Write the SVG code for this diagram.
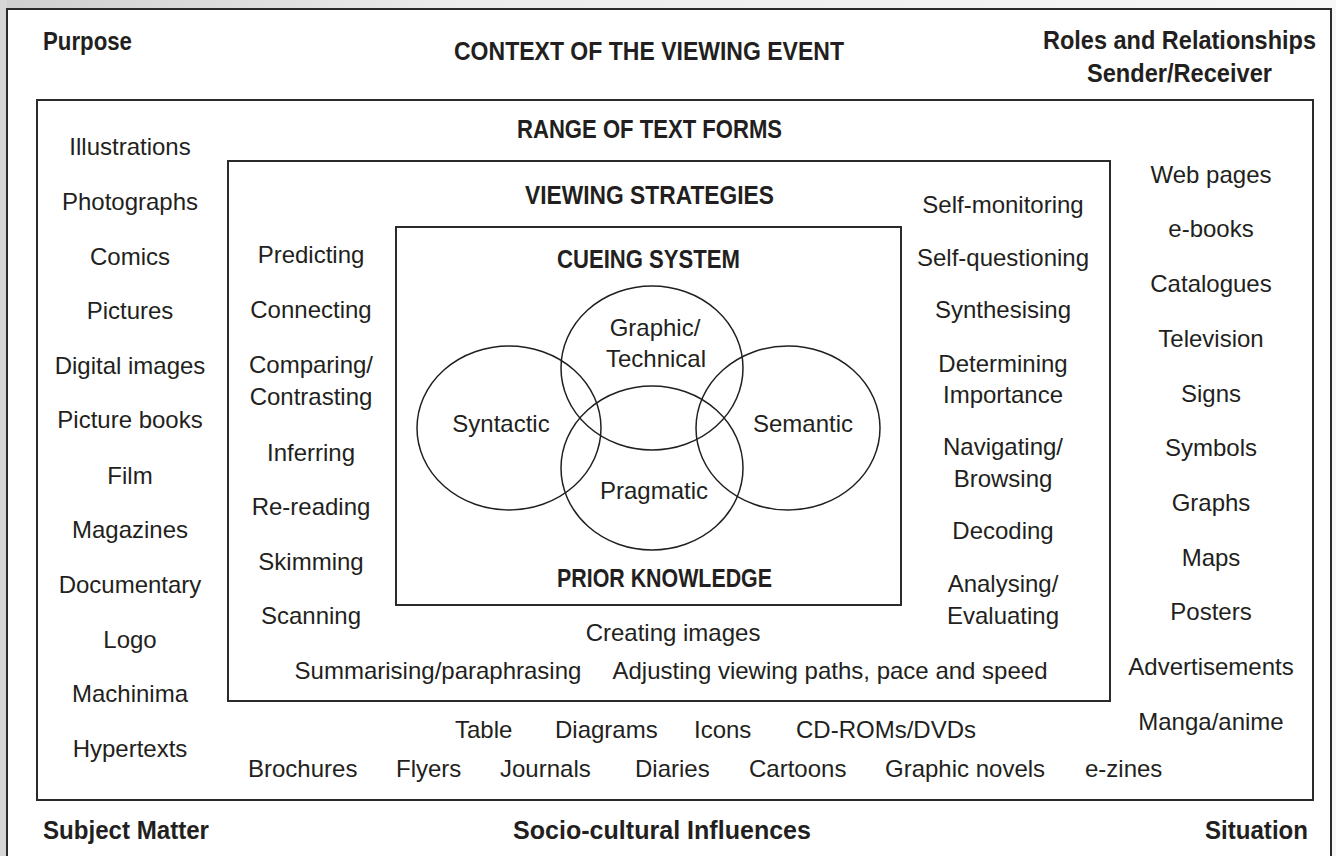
<svg xmlns="http://www.w3.org/2000/svg" width="1336" height="856" viewBox="0 0 1336 856">
  <style>
    .t { font-family: "Liberation Sans", Arial, sans-serif; font-size: 24px; fill: #231f20; text-anchor: middle; }
    .ts { font-family: "Liberation Sans", Arial, sans-serif; font-size: 24px; fill: #231f20; }
    .h { font-family: "Liberation Sans", Arial, sans-serif; font-size: 26px; font-weight: bold; fill: #231f20; }
    .hs { font-family: "Liberation Sans", Arial, sans-serif; font-size: 25px; font-weight: bold; fill: #231f20; }
    .box { fill: none; stroke: #2b2b2b; stroke-width: 2; }
    .ring { fill: none; stroke: #231f20; stroke-width: 1.5; }
  </style>
  <defs>
    <linearGradient id="edgeTop" x1="0" y1="0" x2="1" y2="0">
      <stop offset="0" stop-color="#cfcfcf"/>
      <stop offset="0.35" stop-color="#ececec"/>
      <stop offset="1" stop-color="#f7f7f7"/>
    </linearGradient>
  </defs>

  <!-- page backdrop -->
  <rect x="0" y="0" width="1336" height="856" fill="url(#edgeTop)"/>
  <rect x="0" y="0" width="7" height="856" fill="#d6d6d6"/>

  <!-- outermost frame: context of the viewing event -->
  <g id="context">
    <rect x="7" y="9" width="1324" height="870" fill="#ffffff"/>
    <rect x="7" y="9" width="1324" height="870" class="box"/>
    <text class="hs" x="43" y="50" textLength="89" lengthAdjust="spacingAndGlyphs">Purpose</text>
    <text class="h" x="454" y="60" textLength="390" lengthAdjust="spacingAndGlyphs">CONTEXT OF THE VIEWING EVENT</text>
    <text class="hs" x="1043" y="49" textLength="273" lengthAdjust="spacingAndGlyphs">Roles and Relationships</text>
    <text class="hs" x="1087" y="82" textLength="185" lengthAdjust="spacingAndGlyphs">Sender/Receiver</text>
    <text class="hs" x="43" y="839" textLength="166" lengthAdjust="spacingAndGlyphs">Subject Matter</text>
    <text class="hs" x="513" y="839" textLength="298" lengthAdjust="spacingAndGlyphs">Socio-cultural Influences</text>
    <text class="hs" x="1205" y="839" textLength="103" lengthAdjust="spacingAndGlyphs">Situation</text>
  </g>

  <!-- range of text forms -->
  <g id="text-forms">
    <rect x="37" y="100" width="1276" height="700" class="box"/>
    <text class="h" x="517" y="138" textLength="265" lengthAdjust="spacingAndGlyphs">RANGE OF TEXT FORMS</text>
    <g id="forms-left">
      <text class="t" x="130" y="155">Illustrations</text>
      <text class="t" x="130" y="210">Photographs</text>
      <text class="t" x="130" y="265">Comics</text>
      <text class="t" x="130" y="319">Pictures</text>
      <text class="t" x="130" y="374">Digital images</text>
      <text class="t" x="130" y="428">Picture books</text>
      <text class="t" x="130" y="484">Film</text>
      <text class="t" x="130" y="538">Magazines</text>
      <text class="t" x="130" y="593">Documentary</text>
      <text class="t" x="130" y="648">Logo</text>
      <text class="t" x="130" y="702">Machinima</text>
      <text class="t" x="130" y="757">Hypertexts</text>
    </g>
    <g id="forms-right">
      <text class="t" x="1211" y="183">Web pages</text>
      <text class="t" x="1211" y="237">e-books</text>
      <text class="t" x="1211" y="292">Catalogues</text>
      <text class="t" x="1211" y="347">Television</text>
      <text class="t" x="1211" y="402">Signs</text>
      <text class="t" x="1211" y="456">Symbols</text>
      <text class="t" x="1211" y="511">Graphs</text>
      <text class="t" x="1211" y="566">Maps</text>
      <text class="t" x="1211" y="620">Posters</text>
      <text class="t" x="1211" y="675">Advertisements</text>
      <text class="t" x="1211" y="730">Manga/anime</text>
    </g>
    <g id="forms-bottom">
      <text class="ts" x="455" y="738">Table</text>
      <text class="ts" x="555" y="738">Diagrams</text>
      <text class="ts" x="694" y="738">Icons</text>
      <text class="ts" x="796" y="738">CD-ROMs/DVDs</text>
      <text class="ts" x="248" y="777">Brochures</text>
      <text class="ts" x="396" y="777">Flyers</text>
      <text class="ts" x="500" y="777">Journals</text>
      <text class="ts" x="635" y="777">Diaries</text>
      <text class="ts" x="749" y="777">Cartoons</text>
      <text class="ts" x="885" y="777">Graphic novels</text>
      <text class="ts" x="1085" y="777">e-zines</text>
    </g>
  </g>

  <!-- viewing strategies -->
  <g id="strategies">
    <rect x="228" y="161" width="882" height="540" class="box"/>
    <text class="h" x="525" y="204" textLength="249" lengthAdjust="spacingAndGlyphs">VIEWING STRATEGIES</text>
    <g id="strategies-left">
      <text class="t" x="311" y="263">Predicting</text>
      <text class="t" x="311" y="318">Connecting</text>
      <text class="t" x="311" y="373">Comparing/</text>
      <text class="t" x="311" y="405">Contrasting</text>
      <text class="t" x="311" y="461">Inferring</text>
      <text class="t" x="311" y="515">Re-reading</text>
      <text class="t" x="311" y="570">Skimming</text>
      <text class="t" x="311" y="624">Scanning</text>
    </g>
    <g id="strategies-right">
      <text class="t" x="1003" y="213">Self-monitoring</text>
      <text class="t" x="1003" y="266">Self-questioning</text>
      <text class="t" x="1003" y="318">Synthesising</text>
      <text class="t" x="1003" y="372">Determining</text>
      <text class="t" x="1003" y="403">Importance</text>
      <text class="t" x="1003" y="455">Navigating/</text>
      <text class="t" x="1003" y="487">Browsing</text>
      <text class="t" x="1003" y="539">Decoding</text>
      <text class="t" x="1003" y="592">Analysing/</text>
      <text class="t" x="1003" y="624">Evaluating</text>
    </g>
    <g id="strategies-bottom">
      <text class="t" x="673" y="641">Creating images</text>
      <text class="t" x="438" y="679">Summarising/paraphrasing</text>
      <text class="t" x="830" y="679">Adjusting viewing paths, pace and speed</text>
    </g>
  </g>

  <!-- cueing system -->
  <g id="cueing">
    <rect x="396" y="227" width="505" height="378" class="box"/>
    <text class="h" x="557" y="268" textLength="183" lengthAdjust="spacingAndGlyphs">CUEING SYSTEM</text>
    <text class="h" x="557" y="587" textLength="215" lengthAdjust="spacingAndGlyphs">PRIOR KNOWLEDGE</text>
  </g>

  <g id="syntactic">
    <ellipse class="ring" cx="509" cy="428" rx="92" ry="82"/>
    <text class="t" x="501" y="432">Syntactic</text>
  </g>
  <g id="graphic">
    <ellipse class="ring" cx="652" cy="368" rx="91" ry="82"/>
    <text class="t" x="655" y="336">Graphic/</text>
    <text class="t" x="656" y="367">Technical</text>
  </g>
  <g id="semantic">
    <ellipse class="ring" cx="788" cy="428" rx="92" ry="82"/>
    <text class="t" x="803" y="432">Semantic</text>
  </g>
  <g id="pragmatic">
    <ellipse class="ring" cx="652" cy="468" rx="91" ry="82"/>
    <text class="t" x="654" y="499">Pragmatic</text>
  </g>
</svg>
